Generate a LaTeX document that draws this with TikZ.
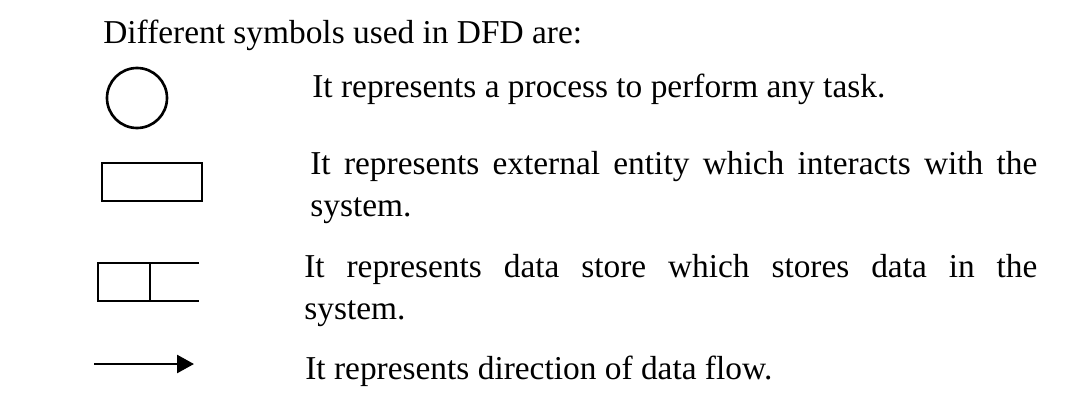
\documentclass[tikz,border=0pt]{standalone}
\usepackage{fontspec}
\setmainfont{Liberation Serif}
\usetikzlibrary{arrows.meta}

\begin{document}
\begin{tikzpicture}
	\tikzset{>={Triangle[length=3.4mm,width=3.6mm]}}
	\tikzset{sym/.style={line width=1.5pt}, txt/.style={anchor=base west, inner sep=0pt, font=\fontsize{19}{24.4}\selectfont}}
	\useasboundingbox (0, 0) rectangle (21.56, 8.1);

	\node[txt] (title) at (2.06, 7.24) {Different symbols used in DFD are:};

	% process
	\newcommand \ProcRadius{0.6};
	\draw[sym] (2.74, 6.14) circle (\ProcRadius);
	\node[txt] (process) at (6.24, 6.16) {It represents a process to perform any task.};

	% external entity
	\draw[sym] (2.04, 4.08) rectangle (4.04, 4.84);
	\node[txt, text width=14.54cm, align=justify] (entity) at (6.2, 4.62) {It represents external entity which interacts with the system.};

	% data store
	\draw[sym] (3.98, 2.84) -- (1.96, 2.84) -- (1.96, 2.08) -- (3.98, 2.08);
	\draw[sym] (3.0, 2.84) -- (3.0, 2.08);
	\node[txt, text width=14.66cm, align=justify] (store) at (6.08, 2.56) {It represents data store which stores data in the\linebreak system.};

	% data flow
	\coordinate (A) at (1.88, 0.82);
	\coordinate (B) at (3.88, 0.82);
	\draw[sym, ->] (A) -- (B);
	\node[txt] (flow) at (6.1, 0.52) {It represents direction of data flow.};
\end{tikzpicture}
\end{document}
